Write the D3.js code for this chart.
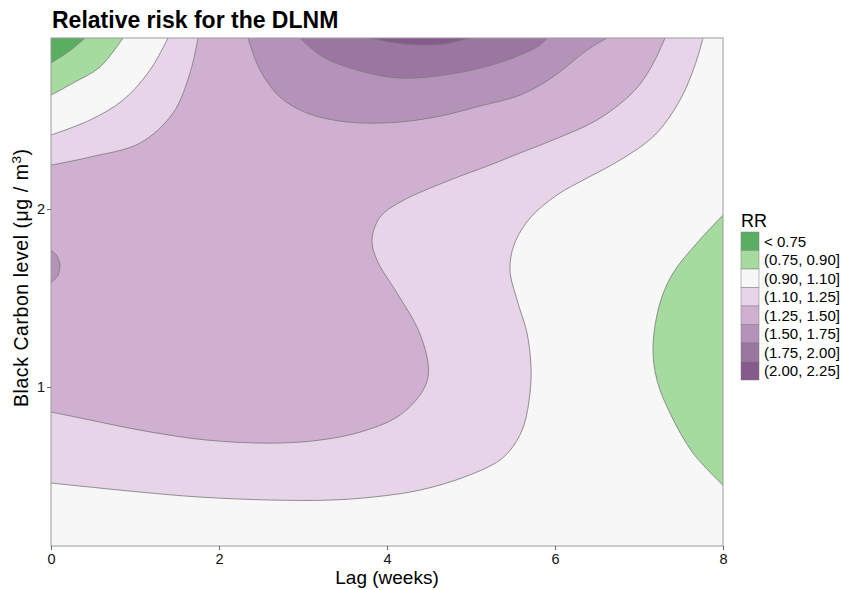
<!DOCTYPE html>
<html>
<head>
<meta charset="utf-8">
<script src="https://cdn.jsdelivr.net/npm/d3@7"></script>
<style>
  html, body { margin: 0; padding: 0; background: #ffffff; }
  svg { display: block; font-family: "Liberation Sans", Arial, Helvetica, sans-serif; }
</style>
</head>
<body>
<svg id="chart" width="844" height="590"></svg>
<script>
// ---- RR bands of the distributed lag non-linear model ----
const rrBreaks   = [0.75, 0.90, 1.10, 1.25, 1.50, 1.75, 2.00, 2.25];
const bandLabels = ["< 0.75", "(0.75, 0.90]", "(0.90, 1.10]", "(1.10, 1.25]",
                    "(1.25, 1.50]", "(1.50, 1.75]", "(1.75, 2.00]", "(2.00, 2.25]"];
const lagTicks = [0, 2, 4, 6, 8];
const bcTicks  = [1, 2];
const lagRange = [0, 8];          // weeks
const bcRange  = [0.107, 2.961];  // black carbon, ug/m3

// ---- RR isolines, as [lag, black carbon] pairs ----
const iso075TopLeft = [[0, 2.820], [0.131, 2.860], [0.250, 2.899], [0.405, 2.961]];
const iso090TopLeft = [[0, 2.640], [0.262, 2.708], [0.583, 2.798], [0.857, 2.961]];
const iso090Right = [[8, 1.966], [7.690, 1.809], [7.405, 1.640], [7.250, 1.472], [7.167, 1.225],
                     [7.214, 1.039], [7.369, 0.854], [7.643, 0.629], [8, 0.449]];
const iso110TopLeft = [[0, 2.416], [0.464, 2.500], [0.857, 2.612], [1.179, 2.781], [1.393, 2.961]];
const iso110Main = [[7.762, 2.961], [7.667, 2.809], [7.488, 2.612], [7.190, 2.416], [6.774, 2.275],
                    [6.381, 2.174], [6.024, 2.079], [5.702, 1.949], [5.512, 1.798], [5.464, 1.657],
                    [5.548, 1.489], [5.667, 1.303], [5.714, 1.112], [5.702, 0.966], [5.631, 0.787],
                    [5.512, 0.674], [5.345, 0.590], [4.952, 0.500], [4.393, 0.421], [3.833, 0.382],
                    [3.321, 0.365], [2.643, 0.365], [1.774, 0.382], [1.060, 0.410], [0, 0.461]];
const iso125TopLeft = [[0, 2.247], [0.464, 2.292], [1.060, 2.371], [1.452, 2.539], [1.655, 2.764], [1.750, 2.961]];
const iso125Main = [[7.310, 2.961], [7.190, 2.837], [7.048, 2.725], [6.893, 2.640], [6.500, 2.500],
                    [5.976, 2.388], [5.583, 2.315], [5.226, 2.247], [4.750, 2.163], [4.155, 2.039],
                    [3.917, 1.955], [3.821, 1.826], [3.881, 1.713], [4.119, 1.528], [4.357, 1.337],
                    [4.476, 1.169], [4.488, 1.056], [4.393, 0.955], [4.119, 0.831], [3.679, 0.747],
                    [3.202, 0.702], [2.643, 0.685], [1.857, 0.702], [1.060, 0.758], [0.464, 0.815], [0, 0.860]];
const iso150Top = [[2.345, 2.961], [2.488, 2.781], [2.726, 2.629], [3.048, 2.539], [3.440, 2.494],
                   [3.762, 2.483], [4.155, 2.489], [4.631, 2.522], [5.107, 2.579], [5.583, 2.640],
                   [5.976, 2.742], [6.381, 2.893], [6.619, 2.961]];
const iso150Left = [[0, 1.770], [0.071, 1.736], [0.107, 1.685], [0.083, 1.629], [0, 1.584]];
const iso175Top = [[2.964, 2.961], [3.238, 2.854], [3.643, 2.781], [4.155, 2.736], [4.833, 2.764],
                   [5.429, 2.837], [5.821, 2.921], [5.905, 2.961]];
const iso200Top = [[3.798, 2.961], [4.095, 2.933], [4.393, 2.921], [4.690, 2.927], [4.988, 2.961]];

// ---- colours, one per band ----
const bandFill = ["#5aae61", "#a6dba0", "#f7f7f7", "#e7d4e8", "#d0b0d0", "#b492b9", "#9b76a0", "#865a8d"];
const lineColor = "#7d7d7d";

const svg = d3.select("#chart");
const panel = { left: 51, right: 723, top: 38, bottom: 546 };

const x = d3.scaleLinear().domain(lagRange).range([panel.left, panel.right]);
const y = d3.scaleLinear().domain(bcRange).range([panel.bottom, panel.top]);

svg.append("rect").attr("width", 844).attr("height", 590).attr("fill", "#ffffff");

// Title
svg.append("text")
  .attr("x", 52).attr("y", 28)
  .attr("font-size", 23).attr("font-weight", "bold").attr("fill", "#000")
  .text("Relative risk for the DLNM");

svg.append("clipPath").attr("id", "panelClip")
  .append("rect")
  .attr("x", panel.left).attr("y", panel.top)
  .attr("width", panel.right - panel.left).attr("height", panel.bottom - panel.top);

const iso = d3.line()
  .x(d => x(d[0])).y(d => y(d[1]))
  .curve(d3.curveCatmullRom.alpha(0.5));

// Closed band region: isoline pieces joined along the panel edges, plus optional corners
function region(pieces, corners = []) {
  let p = pieces.map((pc, i) => i === 0 ? iso(pc) : iso(pc).replace(/^M/, "L")).join("");
  corners.forEach(c => { p += `L${x(c[0])},${y(c[1])}`; });
  return p + "Z";
}

const bcTop = bcRange[1];
const fills = [
  { d: region([iso110TopLeft, iso110Main]), band: 3 },
  { d: region([iso125TopLeft, iso125Main]), band: 4 },
  { d: region([iso150Top]), band: 5 },
  { d: region([iso150Left]), band: 5 },
  { d: region([iso175Top]), band: 6 },
  { d: region([iso200Top]), band: 7 },
  { d: region([iso090TopLeft], [[0, bcTop]]), band: 1 },
  { d: region([iso075TopLeft], [[0, bcTop]]), band: 0 },
  { d: region([iso090Right]), band: 1 }
];

const plot = svg.append("g").attr("clip-path", "url(#panelClip)");

plot.append("rect")
  .attr("x", panel.left).attr("y", panel.top)
  .attr("width", panel.right - panel.left).attr("height", panel.bottom - panel.top)
  .attr("fill", bandFill[2]);

plot.selectAll("path.band")
  .data(fills)
  .join("path")
  .attr("class", "band")
  .attr("d", d => d.d)
  .attr("fill", d => bandFill[d.band])
  .attr("stroke", "none");

const isolines = [iso075TopLeft, iso090TopLeft, iso090Right, iso110TopLeft, iso110Main,
                  iso125TopLeft, iso125Main, iso150Top, iso150Left, iso175Top, iso200Top];
plot.selectAll("path.iso")
  .data(isolines)
  .join("path")
  .attr("class", "iso")
  .attr("d", d => iso(d))
  .attr("fill", "none")
  .attr("stroke", lineColor)
  .attr("stroke-width", 0.85);

// Panel border
svg.append("rect")
  .attr("x", panel.left).attr("y", panel.top)
  .attr("width", panel.right - panel.left).attr("height", panel.bottom - panel.top)
  .attr("fill", "none").attr("stroke", "#9a9a9a").attr("stroke-width", 1);

// Axes
const xAxis = svg.append("g")
  .attr("transform", `translate(0,${panel.bottom})`)
  .call(d3.axisBottom(x).tickValues(lagTicks).tickFormat(d3.format("d")).tickSize(4).tickPadding(4));
const yAxis = svg.append("g")
  .attr("transform", `translate(${panel.left},0)`)
  .call(d3.axisLeft(y).tickValues(bcTicks).tickFormat(d3.format("d")).tickSize(4).tickPadding(2));
[xAxis, yAxis].forEach(g => {
  g.select(".domain").remove();
  g.selectAll(".tick line").attr("stroke", "#666").attr("stroke-width", 1);
  g.selectAll(".tick text").attr("fill", "#111").attr("font-size", 14.5)
    .attr("font-family", "\"Liberation Sans\", Arial, sans-serif");
});

// Axis titles
svg.append("text")
  .attr("x", (panel.left + panel.right) / 2).attr("y", 584)
  .attr("text-anchor", "middle").attr("font-size", 19).attr("fill", "#000")
  .text("Lag (weeks)");

const yt = svg.append("text")
  .attr("transform", "translate(28,278) rotate(-90)")
  .attr("text-anchor", "middle").attr("font-size", 19.5).attr("fill", "#000")
  .attr("textLength", 258).attr("lengthAdjust", "spacing");
yt.append("tspan").text("Black Carbon level (\u03BCg / m");
yt.append("tspan").attr("dy", -7).attr("font-size", 13.5).text("3");
yt.append("tspan").attr("dy", 7).text(")");

// Legend
const legend = svg.append("g");
legend.append("text")
  .attr("x", 741).attr("y", 227)
  .attr("font-size", 18).attr("fill", "#000").text("RR");
const keyH = 18.5;
const keys = legend.selectAll("g.key")
  .data(bandLabels)
  .join("g").attr("class", "key")
  .attr("transform", (d, i) => `translate(741,${232 + i * keyH})`);
keys.append("rect")
  .attr("width", 18).attr("height", keyH)
  .attr("fill", (d, i) => bandFill[i])
  .attr("stroke", lineColor).attr("stroke-width", 0.5);
keys.append("text")
  .attr("x", 23).attr("y", keyH / 2).attr("dy", "0.36em")
  .attr("font-size", 15).attr("fill", "#000")
  .text(d => d);
</script>
</body>
</html>
